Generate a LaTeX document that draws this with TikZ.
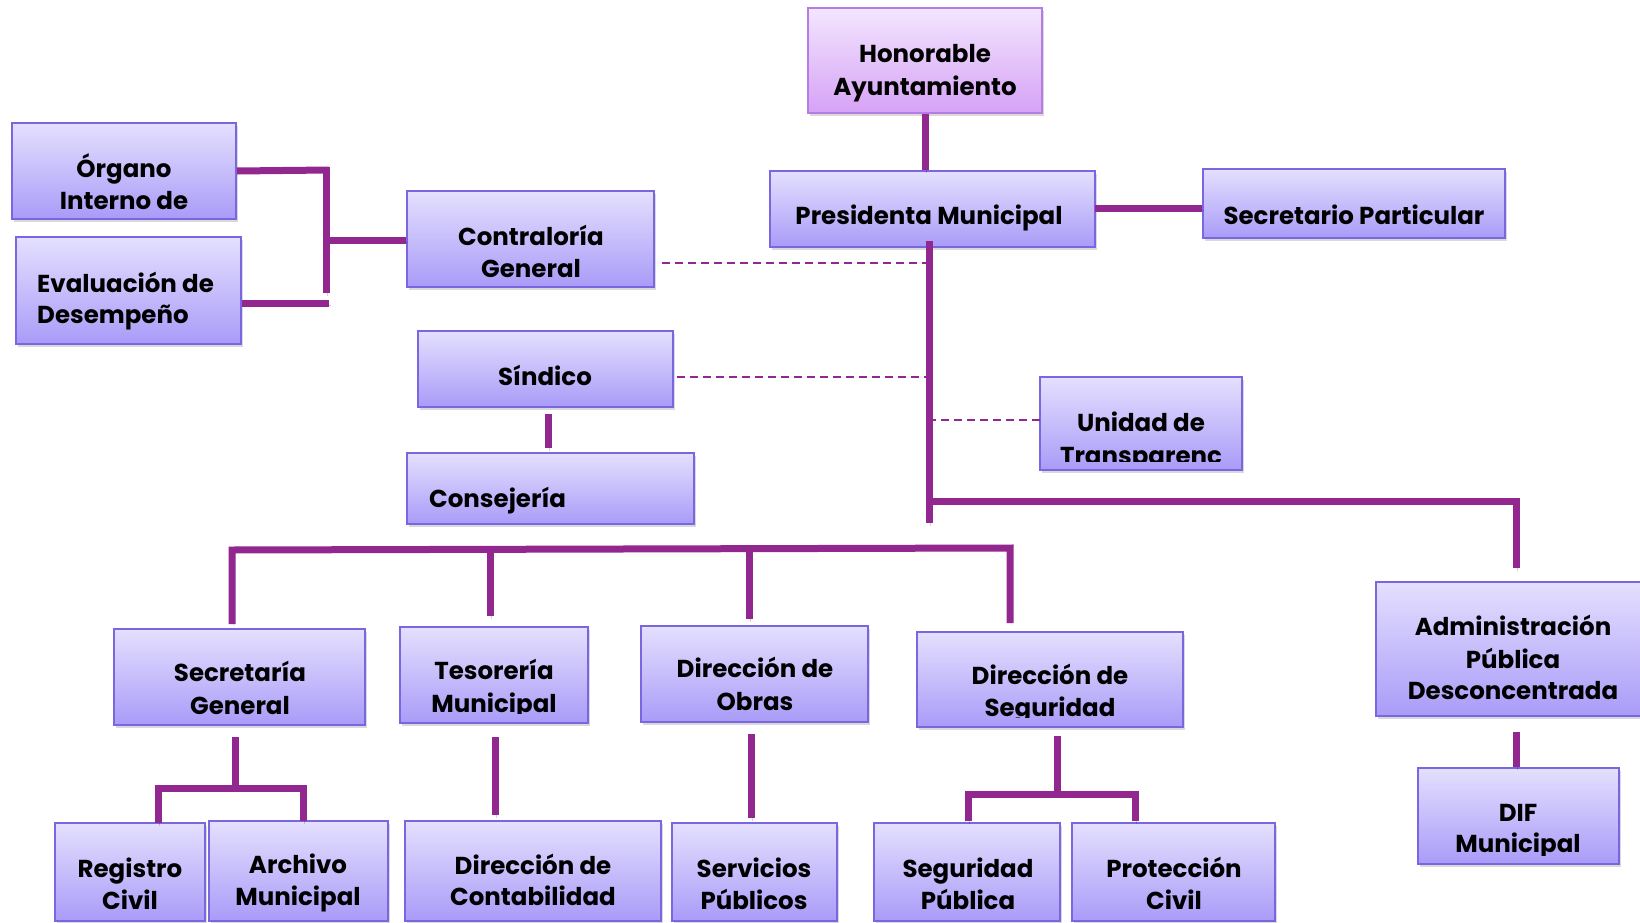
\documentclass[tikz,border=0pt]{standalone}
\usepackage{fontspec}
\setmainfont{Poppins}
\usetikzlibrary{shadows}
\definecolor{boxtop}{HTML}{E4E0FE}
\definecolor{boxbot}{HTML}{A99BF8}
\definecolor{boxline}{HTML}{7A66E0}
\definecolor{hontop}{HTML}{F3E6FE}
\definecolor{honbot}{HTML}{D6A2F6}
\definecolor{honline}{HTML}{B47CE4}
\definecolor{conncol}{HTML}{92278F}
\tikzset{
  orgbox/.style={draw=boxline, line width=2pt, top color=boxtop, bottom color=boxbot, inner sep=0pt,
    drop shadow={shadow xshift=2pt, shadow yshift=-3pt, opacity=0.3}},
  honbox/.style={orgbox, draw=honline, top color=hontop, bottom color=honbot},
  txt/.style={inner sep=0pt, font=\fontsize{24.5}{30}\selectfont\bfseries, anchor=base},
  ltxt/.style={txt, anchor=base west},
  link/.style={draw=conncol, line width=7pt,
    preaction={draw=black, opacity=0.18, transform canvas={shift={(1.5pt,-2.5pt)}}}},
  dlink/.style={draw=conncol, line width=2pt, dash pattern=on 8pt off 5pt},
}
\newcommand{\orgnode}[6][orgbox]{\node[#1, minimum width={(#5-#3)*1pt}, minimum height={(#6-#4)*1pt}] (#2) at ({(#3+#5)/2},{(#4+#6)/2}) {};}
\newcommand{\clipto}[2][10pt]{\clip (#2.north west) rectangle ([yshift=#1]#2.south east);}
\begin{document}
\begin{tikzpicture}[x=1pt,y=-1pt]
\useasboundingbox (0,0) rectangle (1640,923);
% boxes
\orgnode[honbox]{hon}{808}{8}{1042}{113}
\orgnode{pres}{770}{171}{1095}{247}
\orgnode{secp}{1203}{169}{1505}{238}
\orgnode{org}{12}{123}{236}{219}
\orgnode{eval}{16}{237}{241}{344}
\orgnode{contr}{407}{191}{654}{287}
\orgnode{sind}{418}{331}{673}{407}
\orgnode{cons}{407}{453}{694}{524}
\orgnode{unid}{1040}{377}{1242}{470}
\orgnode{secg}{114}{629}{365}{725}
\orgnode{teso}{400}{627}{588}{723}
\orgnode{obras}{641}{626}{868}{722}
\orgnode{dseg}{917}{632}{1183}{727}
\orgnode{adp}{1376}{582}{1652}{716}
\orgnode{dif}{1418}{768}{1619}{864}
\orgnode{reg}{55}{823}{205}{921}
\orgnode{arch}{209}{821}{388}{921}
\orgnode{cont}{405}{821}{661}{921}
\orgnode{serv}{672}{823}{837}{921}
\orgnode{segp}{874}{823}{1060}{921}
\orgnode{prot}{1072}{823}{1275}{921}
% texts
\begin{scope}\clipto{hon}
\node[txt] (honA) at (925,63) {Honorable};
\node[txt] (honB) at (925,96) {Ayuntamiento};
\end{scope}
\begin{scope}\clipto{pres}
\node[txt] (presA) at (929,224) {Presidenta Municipal};
\end{scope}
\begin{scope}\clipto{secp}
\node[txt] (secpA) at (1354,224) {Secretario Particular};
\end{scope}
\begin{scope}\clipto{org}
\node[txt] (orgA) at (124,177) {Órgano};
\node[txt] (orgB) at (124,209) {Interno de};
\end{scope}
\begin{scope}\clipto{eval}
\node[ltxt] (evalA) at (37,292) {Evaluación de};
\node[ltxt] (evalB) at (37,323) {Desempeño};
\end{scope}
\begin{scope}\clipto{contr}
\node[txt] (contrA) at (531,245) {Contraloría};
\node[txt] (contrB) at (531,277) {General};
\end{scope}
\begin{scope}\clipto{sind}
\node[txt] (sindA) at (545,385) {Síndico};
\end{scope}
\begin{scope}\clipto{cons}
\node[ltxt] (consA) at (429,507) {Consejería};
\end{scope}
\begin{scope}\clipto{unid}
\node[txt] (unidA) at (1141,431) {Unidad de};
\node[txt] (unidB) at (1141,464) {Transparenc};
\end{scope}
\begin{scope}\clipto{secg}
\node[txt] (secgA) at (240,681) {Secretaría};
\node[txt] (secgB) at (240,714) {General};
\end{scope}
\begin{scope}\clipto[11pt]{teso}
\node[txt] (tesoA) at (494,679) {Tesorería};
\node[txt] (tesoB) at (494,712) {Municipal};
\end{scope}
\begin{scope}\clipto{obras}
\node[txt] (obrasA) at (755,677) {Dirección de};
\node[txt] (obrasB) at (755,710) {Obras};
\end{scope}
\begin{scope}\clipto[11pt]{dseg}
\node[txt] (dsegA) at (1050,684) {Dirección de};
\node[txt] (dsegB) at (1050,716) {Seguridad};
\end{scope}
\begin{scope}\clipto{adp}
\node[txt] (adpA) at (1513,635) {Administración};
\node[txt] (adpB) at (1513,668) {Pública};
\node[txt] (adpC) at (1513,699) {Desconcentrada};
\end{scope}
\begin{scope}\clipto{dif}
\node[txt] (difA) at (1518,821) {DIF};
\node[txt] (difB) at (1518,852) {Municipal};
\end{scope}
\begin{scope}\clipto{reg}
\node[txt] (regA) at (130,877) {Registro};
\node[txt] (regB) at (130,909) {Civil};
\end{scope}
\begin{scope}\clipto{arch}
\node[txt] (archA) at (298,873) {Archivo};
\node[txt] (archB) at (298,905) {Municipal};
\end{scope}
\begin{scope}\clipto{cont}
\node[txt] (contA) at (533,874) {Dirección de};
\node[txt] (contB) at (533,905) {Contabilidad};
\end{scope}
\begin{scope}\clipto{serv}
\node[txt] (servA) at (754,877) {Servicios};
\node[txt] (servB) at (754,909) {Públicos};
\end{scope}
\begin{scope}\clipto{segp}
\node[txt] (segpA) at (968,877) {Seguridad};
\node[txt] (segpB) at (968,909) {Pública};
\end{scope}
\begin{scope}\clipto{prot}
\node[txt] (protA) at (1174,877) {Protección};
\node[txt] (protB) at (1174,909) {Civil};
\end{scope}
% junction coordinates
\coordinate (mvTop) at (929,241);
\coordinate (mvBot) at (929,523);
\coordinate (mvJ) at (929,501);
\coordinate (adpJ) at (1516,501);
\coordinate (adpEnd) at (1516,568);
\coordinate (ps) at (1095,208);
\coordinate (cd1) at (662,263);
\coordinate (sd1) at (677,377);
\coordinate (ud1) at (1040,420);
\coordinate (obA) at (329,170);
\coordinate (obTop) at (326,167);
\coordinate (obBot) at (326,293);
\coordinate (obC) at (329,303);
\coordinate (obM) at (326,240);
\coordinate (sc1) at (548,414);
\coordinate (sc2) at (548,448);
\coordinate (busL) at (232,550);
\coordinate (busR) at (1010,548);
\coordinate (secDrop) at (232,624);
\coordinate (segDrop) at (1010,623);
\coordinate (tesTop) at (490,549);
\coordinate (tesDrop) at (490,616);
\coordinate (obrTop) at (749,549);
\coordinate (obrDrop) at (749,619);
\coordinate (sgV1) at (235,737);
\coordinate (sgV2) at (235,786);
\coordinate (sgL) at (158,788);
\coordinate (sgR) at (303,788);
\coordinate (sgLd) at (158,823);
\coordinate (sgRd) at (303,821);
\coordinate (tcV1) at (495,737);
\coordinate (tcV2) at (495,815);
\coordinate (osV1) at (751,734);
\coordinate (osV2) at (751,818);
\coordinate (dsV1) at (1057,736);
\coordinate (dsV2) at (1057,792);
\coordinate (dsL) at (968,794);
\coordinate (dsR) at (1135,794);
\coordinate (dsLd) at (968,821);
\coordinate (dsRd) at (1135,821);
\coordinate (adV1) at (1516,732);
\coordinate (adV2) at (1516,767);
% connectors
\draw[link] (hon.south) -- (hon.south |- pres.north);
\draw[link] (ps) -- (ps -| secp.west);
\draw[link] (mvTop) -- (mvBot);
\draw[link] (mvJ) -- (adpJ) -- (adpEnd);
\draw[dlink] (cd1) -- (cd1 -| mvTop);
\draw[dlink] (sd1) -- (sd1 -| mvTop);
\draw[dlink] (ud1) -- (ud1 -| mvTop);
\draw[link] (org.east) -- (obA);
\draw[link] (obTop) -- (obBot);
\draw[link] (eval.east |- obC) -- (obC);
\draw[link] (obM) -- (obM -| contr.west);
\draw[link] (sc1) -- (sc2);
\draw[link] (secDrop) -- (busL) -- (busR) -- (segDrop);
\draw[link] (tesTop) -- (tesDrop);
\draw[link] (obrTop) -- (obrDrop);
\draw[link] (sgV1) -- (sgV2);
\draw[link] (sgLd) -- (sgL) -- (sgR) -- (sgRd);
\draw[link] (tcV1) -- (tcV2);
\draw[link] (osV1) -- (osV2);
\draw[link] (dsV1) -- (dsV2);
\draw[link] (dsLd) -- (dsL) -- (dsR) -- (dsRd);
\draw[link] (adV1) -- (adV2);
\end{tikzpicture}
\end{document}
